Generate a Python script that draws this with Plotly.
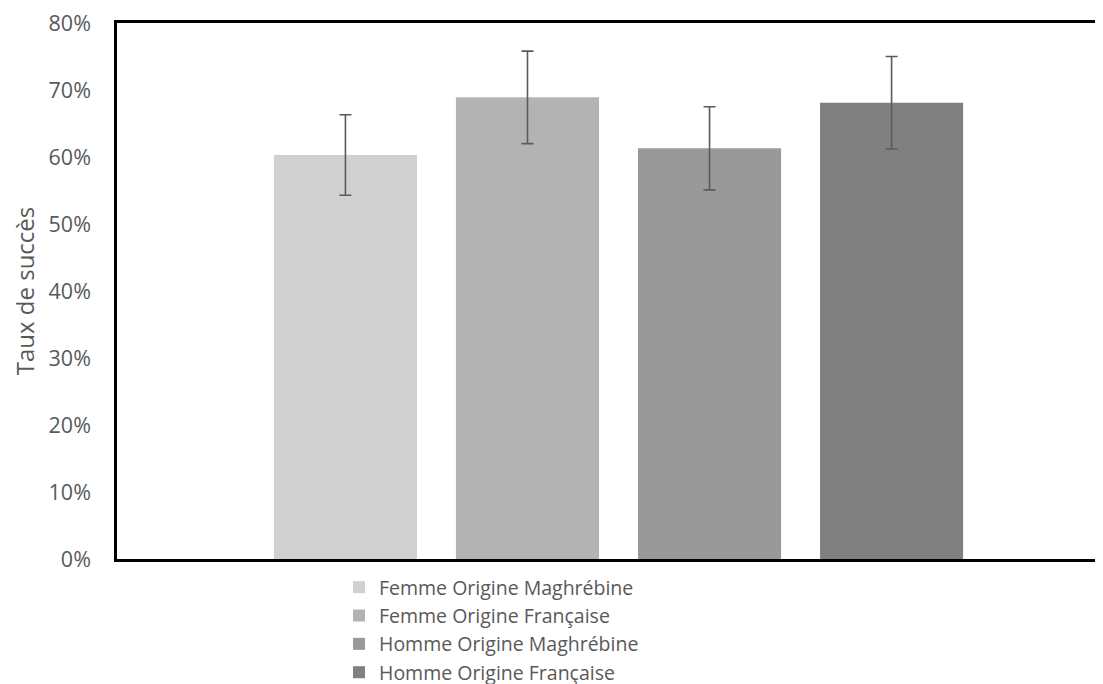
import plotly.graph_objects as go

series = ["Femme Origine Maghrébine", "Femme Origine Française",
          "Homme Origine Maghrébine", "Homme Origine Française"]
values = [0.603, 0.689, 0.613, 0.681]
errors = [0.060, 0.069, 0.062, 0.069]
colors = ["#d0d0d0", "#b3b3b3", "#999999", "#808080"]
category = [""]
yticks = [0, 0.1, 0.2, 0.3, 0.4, 0.5, 0.6, 0.7, 0.8]
yticklabels = ["0%", "10%", "20%", "30%", "40%", "50%", "60%", "70%", "80%"]

FONT = "Open Sans"
W, H = 1103, 684
ML, MT, MB = 109, 15, 132.5

fig = go.Figure()
for name, v, e, c in zip(series, values, errors, colors):
    fig.add_trace(go.Bar(
        name=name, x=category, y=[v], marker=dict(color=c, line=dict(width=0)),
        error_y=dict(type="data", array=[e], color="#5a5a5a", thickness=1.6, width=6),
    ))

plot_h = H - MT - MB
fig.update_layout(
    width=W, height=H,
    margin=dict(l=ML, r=0, t=MT, b=MB, autoexpand=False),
    paper_bgcolor="white", plot_bgcolor="white",
    barmode="group", bargap=0.274, bargroupgap=0.214,
    font=dict(family=FONT, color="#595959"),
    legend=dict(x=(331 - ML) / (W - ML), y=-(560.5 - (MT + plot_h)) / plot_h,
                xanchor="left", yanchor="top",
                font=dict(size=19.5, color="#595959", family=FONT),
                tracegroupgap=0, itemwidth=30, traceorder="normal"),
    showlegend=True,
)
fig.update_xaxes(showline=True, linecolor="black", linewidth=2.5, mirror=True,
                 showticklabels=False, showgrid=False, range=[-0.5, 0.491],
                 type="category", zeroline=False)
fig.update_yaxes(range=[0, 0.8], tickvals=yticks, ticktext=yticklabels,
                 showline=True, linecolor="black", linewidth=2.5, showgrid=False,
                 zeroline=False, ticks="", ticklabelstandoff=19,
                 ticklabeloverflow="allow",
                 tickfont=dict(size=21.5, color="#595959", family=FONT),
                 title=dict(text="Taux de succès", standoff=12,
                            font=dict(size=24, color="#595959", family=FONT)))
fig.write_html("out.html")
